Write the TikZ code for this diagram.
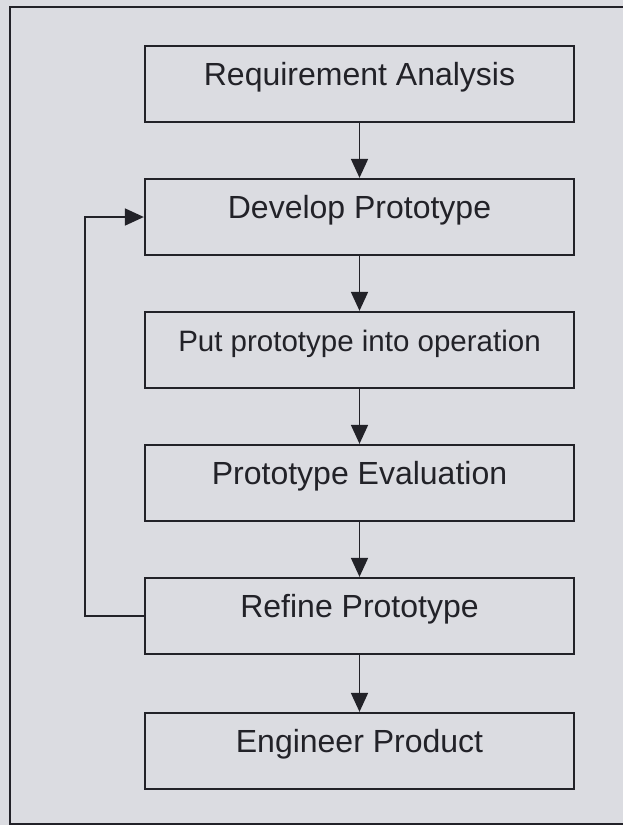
\documentclass[tikz,border=0pt]{standalone}
\usepackage{fontspec}
\setmainfont{Liberation Sans}
\usetikzlibrary{arrows.meta}
\definecolor{paper}{RGB}{219,220,225}
\definecolor{ink}{RGB}{34,34,40}
\begin{document}
\begin{tikzpicture}[x=1pt,y=-1pt,
  stagebox/.style={draw=ink, line width=2.3pt, minimum width=429pt, minimum height=76pt,
    inner sep=0pt, text height=14pt, text depth=12pt, text=ink,
    font=\fontsize{32}{38}\selectfont},
  flow/.style={draw=ink, line width=1.8pt, -{Triangle[length=19pt,width=17pt]}},
]
% page and outer frame
\fill[paper] (0,0) rectangle (623,825);
\useasboundingbox (0,0) rectangle (623,825);
\draw[ink, line width=2pt] (623,7) -- (10,7) -- (10,824) -- (623,824);

% process stages
\node[stagebox] (req)  at (359.5,84)  {Requirement Analysis};
\node[stagebox] (dev)  at (359.5,217) {Develop Prototype};
\node[stagebox, font=\fontsize{29.5}{36}\selectfont] (op) at (359.5,350) {Put prototype into operation};
\node[stagebox] (eval) at (359.5,483) {Prototype Evaluation};
\node[stagebox] (ref)  at (359.5,616) {Refine Prototype};
\node[stagebox] (eng)  at (359.5,751) {Engineer Product};

% forward flow
\draw[flow] (req) -- (dev);
\draw[flow] (dev) -- (op);
\draw[flow] (op) -- (eval);
\draw[flow] (eval) -- (ref);
\draw[flow] (ref) -- (eng);

% refinement loop back to prototyping
\draw[flow] (ref.west) -- ++(-59,0) |- (dev.west);
\end{tikzpicture}
\end{document}
